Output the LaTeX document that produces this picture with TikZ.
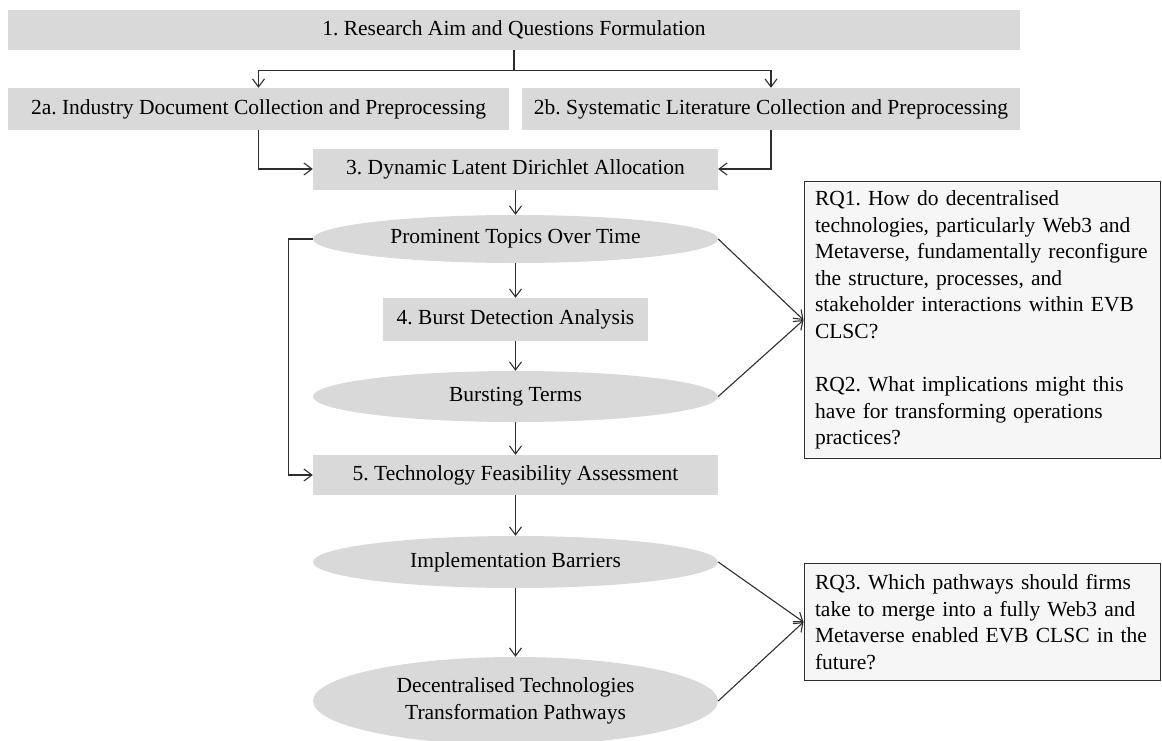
\documentclass[tikz,border=0pt]{standalone}
\usepackage{fontspec}
\setmainfont{Liberation Serif}
\usetikzlibrary{shapes.geometric, arrows.meta}

\definecolor{boxgray}{HTML}{D9D9D9}
\definecolor{notegray}{HTML}{F6F6F6}
\definecolor{linegray}{HTML}{2E2E2E}

\frenchspacing

\begin{document}
\begin{tikzpicture}[x=1pt, y=-1pt,
  every node/.style={font=\fontsize{21.5}{26.6}\selectfont, inner sep=0pt},
  stage/.style={rectangle, fill=boxgray, minimum height=41pt},
  result/.style={ellipse, fill=boxgray, minimum width=405pt},
  rq/.style={rectangle, draw=linegray, fill=notegray, line width=1pt,
    minimum width=356pt, text width=334pt, inner xsep=11pt, align=left},
  flow/.style={-{Straight Barb[length=8pt, width=12pt]}, line width=1.1pt, draw=linegray}]
  \useasboundingbox (0,0) rectangle (1162,740);

  % stages of the method
  \node[stage, minimum width=1012pt, minimum height=40pt] (aim) at (514,30)
    {1. Research Aim and Questions Formulation};
  \node[stage, minimum width=501pt, minimum height=42pt] (ind) at (258.5,109)
    {2a. Industry Document Collection and Preprocessing};
  \node[stage, minimum width=498pt, minimum height=42pt] (lit) at (771,109)
    {2b. Systematic Literature Collection and Preprocessing};
  \node[stage, minimum width=405pt] (dla) at (515.5,169)
    {3. Dynamic Latent Dirichlet Allocation};
  \node[result, minimum height=48pt] (topics) at (515.5,239) {Prominent Topics Over Time};
  \node[stage, minimum width=265pt, minimum height=43pt] (burst) at (515.5,319.5)
    {4. Burst Detection Analysis};
  \node[result, minimum height=51pt] (terms) at (515.5,396.5) {Bursting Terms};
  \node[stage, minimum width=405pt, minimum height=40pt] (feas) at (515.5,475)
    {5. Technology Feasibility Assessment};
  \node[result, minimum height=52pt] (barr) at (515.5,562) {Implementation Barriers};
  \node[result, minimum height=88pt, align=center] (paths) at (515.5,701)
    {Decentralised Technologies\\Transformation Pathways};

  % research questions
  \node[rq, minimum height=277pt] (rq1) at (982,320)
    {RQ1. How do decentralised\\
     technologies, particularly Web3 and\\
     Metaverse, fundamentally reconfigure\\
     the structure, processes, and\\
     stakeholder interactions within EVB\\
     CLSC?\\[26.6pt]
     RQ2. What implications might this\\
     have for transforming operations\\
     practices?};
  \node[rq, minimum height=117pt] (rq3) at (982,622)
    {RQ3. Which pathways should firms\\
     take to merge into a fully Web3 and\\
     Metaverse enabled EVB CLSC in the\\
     future?};

  % main flow
  \draw[flow] (aim.south) -- ++(0,20) -| (ind.north);
  \draw[flow] (aim.south) ++(0,20) -| (lit.north);
  \draw[flow] (ind.south) |- (dla.west);
  \draw[flow] (lit.south) |- (dla.east);
  \draw[flow] (dla.south) -- (topics.north);
  \draw[flow] (topics.south) -- (burst.north);
  \draw[flow] (burst.south) -- (terms.north);
  \draw[flow] (terms.south) -- (feas.north);
  \draw[flow] (topics.west) -- ++(-24,0) |- (feas.west);
  \draw[flow] (feas.south) -- (barr.north);
  \draw[flow] (barr.south) -- (paths.north);

  % links to the questions
  \draw[flow] (topics.east) -- (rq1.west);
  \draw[flow] (terms.east) -- (rq1.west);
  \draw[flow] (barr.east) -- (rq3.west);
  \draw[flow] (paths.east) -- (rq3.west);
\end{tikzpicture}
\end{document}
